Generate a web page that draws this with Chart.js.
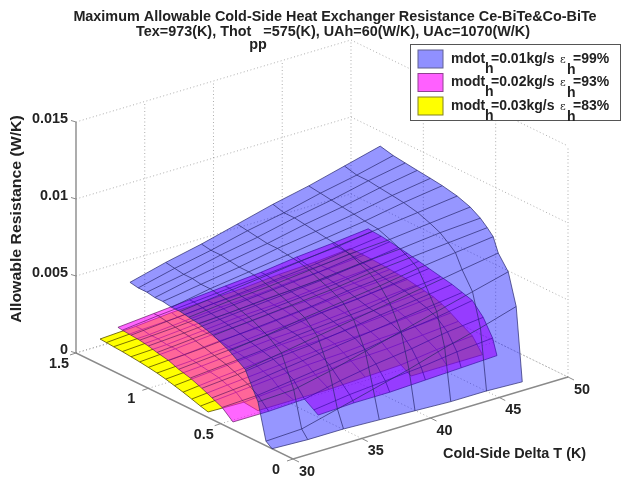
<!DOCTYPE html>
<html>
<head>
<meta charset="utf-8">
<script src="https://cdn.jsdelivr.net/npm/chart.js@4/dist/chart.umd.js"></script>
<style>
  html, body { margin: 0; padding: 0; background: #fff; }
  #wrap { width: 621px; height: 481px; }
  canvas { filter: blur(0.45px); }
</style>
</head>
<body>
<div id="wrap"><canvas id="c" width="621" height="481"></canvas></div>
<script>
// axis ticks
const tTicks = [30, 35, 40, 45, 50];
const flowTicks = [0, 0.5, 1, 1.5];
const zTicks = [0, 0.005, 0.01, 0.015];
const zTickLabels = ['0', '0.005', '0.01', '0.015'];

// columns are shared by the three surfaces
const tCols = [30, 32.6, 35.2, 37.8, 40.4, 43, 45.6, 48.2];

// the blue mesh rows bunch up towards the cold end, so its flow position is read per node
const blueRows = [
  [0.145, 0.145, 0.145, 0.145, 0.145, 0.145, 0.145, 0.145],
  [0.187, 0.187, 0.187, 0.187, 0.187, 0.187, 0.187, 0.187],
  [0.242, 0.242, 0.242, 0.242, 0.242, 0.242, 0.242, 0.242],
  [0.33, 0.327, 0.325, 0.322, 0.319, 0.316, 0.314, 0.311],
  [0.44, 0.427, 0.413, 0.4, 0.387, 0.373, 0.36, 0.346],
  [0.55, 0.527, 0.503, 0.48, 0.457, 0.433, 0.41, 0.387],
  [0.65, 0.619, 0.589, 0.558, 0.527, 0.496, 0.466, 0.435],
  [0.72, 0.689, 0.659, 0.628, 0.597, 0.566, 0.536, 0.505],
  [0.78, 0.754, 0.727, 0.701, 0.674, 0.648, 0.621, 0.595],
  [0.84, 0.82, 0.799, 0.779, 0.759, 0.739, 0.718, 0.698],
  [0.9, 0.883, 0.866, 0.849, 0.831, 0.814, 0.797, 0.78],
  [0.955, 0.943, 0.931, 0.919, 0.907, 0.895, 0.883, 0.871],
  [1.01, 1.002, 0.994, 0.986, 0.978, 0.97, 0.962, 0.954],
  [1.07, 1.065, 1.061, 1.056, 1.051, 1.046, 1.042, 1.037],
  [1.127, 1.127, 1.127, 1.127, 1.127, 1.127, 1.127, 1.127]
];
const blueZ = [
  [0, -0.0001, -0.0001, -0.0002, -0.0003, -0.0004, -0.0004, -0.0005],
  [0.0003, 0.0004, 0.001, 0.0016, 0.0022, 0.0029, 0.0035, 0.0042],
  [0.0026, 0.0027, 0.0032, 0.0038, 0.0044, 0.005, 0.0056, 0.0062],
  [0.0043, 0.0047, 0.0051, 0.0055, 0.0059, 0.0063, 0.0067, 0.0071],
  [0.005, 0.0054, 0.0059, 0.0063, 0.0067, 0.0072, 0.0076, 0.008],
  [0.0055, 0.0059, 0.0063, 0.0067, 0.0072, 0.0076, 0.008, 0.0084],
  [0.0058, 0.0062, 0.0066, 0.007, 0.0075, 0.0079, 0.0084, 0.0088],
  [0.0059, 0.0064, 0.0068, 0.0073, 0.0078, 0.0082, 0.0087, 0.0092],
  [0.006, 0.0065, 0.007, 0.0075, 0.008, 0.0085, 0.009, 0.0095],
  [0.006, 0.0066, 0.0071, 0.0076, 0.0081, 0.0086, 0.0092, 0.0097],
  [0.0061, 0.0066, 0.0071, 0.0077, 0.0082, 0.0087, 0.0093, 0.0098],
  [0.0061, 0.0067, 0.0072, 0.0077, 0.0083, 0.0088, 0.0094, 0.0099],
  [0.0062, 0.0067, 0.0073, 0.0078, 0.0084, 0.0089, 0.0095, 0.01],
  [0.0062, 0.0068, 0.0073, 0.0079, 0.0084, 0.009, 0.0095, 0.0101],
  [0.0063, 0.0069, 0.0074, 0.008, 0.0086, 0.0091, 0.0097, 0.0103]
];

const magentaRows = [0.32, 0.35, 0.415, 0.49, 0.56, 0.63, 0.71, 0.79, 0.86, 0.94, 1.0, 1.06, 1.12, 1.18, 1.21];
const magentaZ = [
  [null, null, 0, 0.0001, 0.0001, 0.0002, 0.0003, 0.0004],
  [null, null, 0.0002, 0.0005, 0.0007, 0.0009, 0.0012, 0.0014],
  [0.0005, 0.0005, 0.0006, 0.0011, 0.0015, 0.0018, 0.0022, 0.00245],
  [0.0011, 0.0012, 0.0015, 0.0018, 0.0021, 0.0025, 0.0028, 0.0032],
  [0.0014, 0.0016, 0.0019, 0.0022, 0.0025, 0.0028, 0.0031, 0.0034],
  [0.0017, 0.0019, 0.0022, 0.0024, 0.0027, 0.003, 0.0033, 0.0036],
  [0.002, 0.0022, 0.0024, 0.0027, 0.0029, 0.0031, 0.0035, 0.00375],
  [0.0022, 0.0024, 0.0026, 0.0028, 0.0031, 0.0033, 0.0036, 0.0039],
  [0.00245, 0.0026, 0.0028, 0.003, 0.0032, 0.0035, 0.0037, 0.00405],
  [0.0026, 0.0028, 0.003, 0.0032, 0.0034, 0.0036, 0.0039, 0.0042],
  [0.00275, 0.0029, 0.0031, 0.0033, 0.0035, 0.0037, 0.004, 0.0043],
  [0.00285, 0.003, 0.0032, 0.0034, 0.0036, 0.0038, 0.0041, 0.0044],
  [0.0029, 0.0031, 0.0033, 0.0035, 0.0037, 0.0039, 0.0042, 0.00448],
  [0.00295, 0.0032, 0.0034, 0.0036, 0.0038, 0.004, 0.0042, 0.00452],
  [0.003, 0.0032, 0.0034, 0.0036, 0.0038, 0.0041, 0.0043, 0.00455]
];

const yellowRows = [0.42, 0.49, 0.587, 0.64, 0.7, 0.76, 0.82, 0.88, 0.94, 1.0, 1.06, 1.12, 1.18, 1.24, 1.29, 1.334];
const yellowZ = [
  [null, null, null, null, null, 0, 0, 0],
  [null, 0.0002, 0.0002, 0.0002, 0.0003, 0.0004, 0.0007, 0.0009],
  [0.00036, 0.0003, 0.0005, 0.0007, 0.0009, 0.001, 0.0012, 0.0014],
  [0.0005, 0.0007, 0.0009, 0.0011, 0.0012, 0.0014, 0.0015, 0.0017],
  [0.00068, 0.0009, 0.0011, 0.0013, 0.0015, 0.0016, 0.0018, 0.002],
  [0.00085, 0.0011, 0.0013, 0.0015, 0.0016, 0.0018, 0.002, 0.0022],
  [0.001, 0.0012, 0.0014, 0.0016, 0.0017, 0.0019, 0.0021, 0.0023],
  [0.00115, 0.0013, 0.0015, 0.0017, 0.0018, 0.002, 0.0022, 0.0024],
  [0.00127, 0.0014, 0.0016, 0.0018, 0.0019, 0.0021, 0.0023, 0.0025],
  [0.00136, 0.0015, 0.0017, 0.0018, 0.002, 0.0022, 0.0024, 0.00255],
  [0.00144, 0.0016, 0.0018, 0.0019, 0.0021, 0.0022, 0.0024, 0.0026],
  [0.0015, 0.0016, 0.0018, 0.002, 0.0021, 0.0023, 0.0025, 0.00265],
  [0.00156, 0.0017, 0.0019, 0.002, 0.0022, 0.0023, 0.0025, 0.00268],
  [0.0016, 0.0017, 0.0019, 0.0021, 0.0022, 0.0024, 0.0025, 0.0027],
  [0.00164, 0.0018, 0.0019, 0.0021, 0.0022, 0.0024, 0.0025, 0.0027],
  [0.00167, 0.0018, 0.002, 0.0021, 0.0022, 0.0024, 0.0025, 0.0027]
];

// legend rows: name, mass flow text, effectiveness text
const legendNames = ['mdot', 'modt', 'modt'];
const legendFlows = ['=0.01kg/s', '=0.02kg/s', '=0.03kg/s'];
const legendEff = ['=99%', '=93%', '=83%'];

const tMin = 30, tMax = 50, flowMax = 1.5, zMax = 0.015;

// fixed view of the 3d box, same as the matlab axes in the picture
function project(t, v, z) {
  return {
    x: 293 + (t - tMin) * 13.75 - v * 144.67,
    y: 459 - (t - tMin) * 4.1 - v * 70.67 - z * 15400
  };
}

function lineSet(points, color, width, dash) {
  return {
    data: points, showLine: true, fill: false, tension: 0, pointRadius: 0,
    borderColor: color, borderWidth: width, borderDash: dash || []
  };
}

// one fill for the outline, then the mesh lines on top of it
function surfaceSets(rows, table, fillColor, edgeColor) {
  const rowV = (r, c) => Array.isArray(rows[r]) ? rows[r][c] : rows[r];
  const node = (r, c) => project(tCols[c], rowV(r, c), table[r][c]);
  const sets = [];
  const nCols = tCols.length, nRows = rows.length;

  for (let r = 0; r < nRows; r++) {
    const pts = [];
    for (let c = 0; c < nCols; c++) if (table[r][c] !== null) pts.push(node(r, c));
    sets.push(lineSet(pts, edgeColor, 1));
  }
  const low = [];
  for (let c = 0; c < nCols; c++) {
    const pts = [];
    for (let r = 0; r < nRows; r++) {
      if (table[r][c] !== null) {
        if (low[c] === undefined) low[c] = r;
        pts.push(node(r, c));
      }
    }
    sets.push(lineSet(pts, edgeColor, 1));
  }

  // outline: up the first column, along the last row, down the last column, back over the stepped front
  const outline = [];
  for (let r = low[0]; r < nRows; r++) outline.push(node(r, 0));
  for (let c = 1; c < nCols; c++) outline.push(node(nRows - 1, c));
  for (let r = nRows - 2; r >= low[nCols - 1]; r--) outline.push(node(r, nCols - 1));
  for (let c = nCols - 2; c >= 0; c--) {
    for (let r = low[c + 1] + 1; r <= low[c]; r++) outline.push(node(r, c + 1));
    outline.push(node(low[c], c));
  }
  sets.push({
    data: outline, showLine: true, tension: 0, pointRadius: 0, borderWidth: 0,
    borderColor: 'rgba(0,0,0,0)', backgroundColor: fillColor, fill: 'shape'
  });
  return sets;
}

function boxSets() {
  const sets = [];
  const dotted = 'rgba(120,120,120,0.6)';
  const dash = [1, 2.5];
  const axisColor = '#8a8a8a';
  // back walls and floor
  zTicks.forEach(z => {
    sets.push(lineSet([project(tMin, flowMax, z), project(tMax, flowMax, z), project(tMax, 0, z)], dotted, 1, dash));
  });
  tTicks.slice(1).forEach(t => {
    sets.push(lineSet([project(t, 0, 0), project(t, flowMax, 0), project(t, flowMax, zMax)], dotted, 1, dash));
  });
  flowTicks.slice(1).forEach(v => {
    sets.push(lineSet([project(tMin, v, 0), project(tMax, v, 0)], dotted, 1, dash));
  });
  flowTicks.slice(0, 3).forEach(v => {
    sets.push(lineSet([project(tMax, v, 0), project(tMax, v, zMax)], dotted, 1, dash));
  });
  // solid axes
  sets.push(lineSet([project(tMin, flowMax, zMax), project(tMin, flowMax, 0), project(tMin, 0, 0), project(tMax, 0, 0)], axisColor, 1.4));
  zTicks.forEach(z => {
    const p = project(tMin, flowMax, z);
    sets.push(lineSet([p, { x: p.x - 5, y: p.y - 1.5 }], axisColor, 1));
  });
  tTicks.forEach(t => {
    const p = project(t, 0, 0);
    sets.push(lineSet([p, { x: p.x + 6, y: p.y + 3 }], axisColor, 1));
  });
  flowTicks.forEach(v => {
    const p = project(tMin, v, 0);
    sets.push(lineSet([p, { x: p.x - 6, y: p.y + 2 }], axisColor, 1));
  });
  return sets;
}

const textPlugin = {
  id: 'textPlugin',
  afterDraw(chart) {
    const ctx = chart.ctx;
    const face = '"Liberation Sans", Arial, sans-serif';
    ctx.save();
    ctx.fillStyle = '#222';
    ctx.textBaseline = 'middle';

    ctx.textAlign = 'center';
    ctx.font = 'bold 14.4px ' + face;
    ctx.fillText('Maximum Allowable Cold-Side Heat Exchanger Resistance Ce-BiTe&Co-BiTe', 335, 17);
    ctx.fillText('Tex=973(K), Thot   =575(K), UAh=60(W/K), UAc=1070(W/K)', 333, 32);
    ctx.fillText('pp', 258, 45);

    ctx.font = 'bold 14.4px ' + face;
    ctx.textAlign = 'right';
    zTicks.forEach((z, i) => {
      ctx.fillText(zTickLabels[i], 68, project(tMin, flowMax, z).y - 3);
    });
    ctx.textAlign = 'center';
    flowTicks.forEach(v => {
      const p = project(tMin, v, 0);
      ctx.fillText(String(v), p.x - 17, p.y + 11);
    });
    tTicks.forEach(t => {
      const p = project(t, 0, 0);
      ctx.fillText(String(t), p.x + 14, p.y + 13);
    });

    ctx.textAlign = 'left';
    ctx.fillText('Cold-Side Delta T (K)', 443, 454);
    ctx.save();
    ctx.translate(17, 219);
    ctx.rotate(-Math.PI / 2);
    ctx.scale(1.1, 1);
    ctx.textAlign = 'center';
    ctx.fillText('Allowable Resistance (W/K)', 0, 0);
    ctx.restore();

    // legend box
    ctx.fillStyle = '#fff';
    ctx.strokeStyle = '#555';
    ctx.lineWidth = 1;
    ctx.fillRect(410.5, 44.5, 210, 76);
    ctx.strokeRect(410.5, 44.5, 210, 76);
    const swatch = ['#9090ff', '#ff60ff', '#ffff00'];
    const swatchEdge = ['#606090', '#904090', '#808020'];
    legendNames.forEach((name, i) => {
      const top = 50 + i * 23.5;
      const mid = top + 9;
      ctx.fillStyle = swatch[i];
      ctx.strokeStyle = swatchEdge[i];
      ctx.fillRect(418, top, 25, 18);
      ctx.strokeRect(418, top, 25, 18);
      ctx.fillStyle = '#222';
      ctx.font = 'bold 14px ' + face;
      ctx.fillText(name, 451, mid);
      ctx.fillText(legendFlows[i], 491, mid);
      ctx.fillText(legendEff[i], 573, mid);
      ctx.fillText('h', 485, mid + 10);
      ctx.fillText('h', 567, mid + 11);
      ctx.font = '11px "DejaVu Serif", serif';
      ctx.fillText('\u03b5', 560, mid + 1);
    });
    ctx.restore();
  }
};

// first dataset ends up on top in chart.js, so blue goes first
const datasets = [
  ...surfaceSets(blueRows, blueZ, 'rgba(0,0,255,0.41)', 'rgba(40,40,110,0.7)'),
  ...surfaceSets(magentaRows, magentaZ, 'rgba(255,0,255,0.6)', 'rgba(90,20,90,0.65)'),
  ...surfaceSets(yellowRows, yellowZ, 'rgba(255,255,0,1)', 'rgba(90,80,0,0.8)'),
  ...boxSets()
];

new Chart(document.getElementById('c'), {
  type: 'scatter',
  data: { datasets },
  options: {
    responsive: false,
    animation: false,
    events: [],
    layout: { padding: 0 },
    plugins: { legend: { display: false }, tooltip: { enabled: false }, title: { display: false } },
    scales: {
      x: { type: 'linear', min: 0, max: 621, display: false },
      y: { type: 'linear', min: 0, max: 481, reverse: true, display: false }
    }
  },
  plugins: [textPlugin]
});
</script>
</body>
</html>
